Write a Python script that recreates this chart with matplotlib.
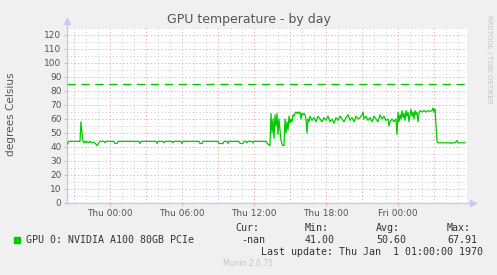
import numpy as np
import matplotlib.pyplot as plt
from matplotlib.patches import Rectangle

plt.rcParams['lines.scale_dashes'] = False

# minutes relative to Thu 00:00, temperature in degrees Celsius
minutes = [-215, -210, -205, -150, -145, -140, -135, -130, -125, -120, -115, -105, -100,
           -90, -80, -70, -65, -60, -50, -30, -25, -20, 20, 25, 35, 40, 145, 150, 155,
           230, 235, 240, 265, 270, 275, 310, 315, 320, 355, 360, 365, 445, 450, 460, 465,
           540, 545, 565, 570, 585, 590, 595, 645, 650, 665, 670, 680, 685, 690, 710, 715,
           720, 780, 790, 800,
           805, 810, 815, 820, 825, 830, 835, 840, 845, 850, 855, 860, 865, 870, 875, 880,
           885, 890, 895, 900, 905, 910, 915, 920, 925, 930, 935, 940, 945, 950, 955, 960,
           965, 970, 975, 980, 985, 990, 995, 1000,
           1010, 1020, 1030, 1040, 1050, 1060, 1070, 1080, 1090, 1100, 1110, 1120, 1130,
           1140, 1150, 1160, 1170, 1180, 1190, 1200, 1210, 1220, 1230, 1240, 1250, 1260,
           1265, 1270, 1280, 1290, 1300, 1310, 1320, 1330, 1340, 1350, 1360, 1370, 1380,
           1390, 1395, 1400, 1410, 1420, 1430, 1435,
           1440, 1445, 1450, 1455, 1460, 1465, 1470, 1475, 1480, 1485, 1490, 1495, 1500,
           1505, 1510, 1515, 1520, 1525, 1530, 1535, 1540, 1545, 1550, 1560, 1570, 1580,
           1590, 1600, 1610, 1615, 1620, 1625, 1630, 1635, 1640, 1700, 1705, 1710, 1725,
           1735, 1740, 1775]
temps = [42, 43, 44, 44, 58, 50, 44, 43, 44, 43, 44, 43, 44,
         43, 43.5, 42, 41, 42, 44, 44, 43, 44, 44, 42.5, 42.5, 44, 44, 42.5, 44,
         44, 42.5, 44, 44, 43, 44, 44, 43, 44, 44, 42.5, 44, 44, 42.5, 42.5, 44,
         44, 42.5, 42.5, 44, 44, 42.5, 44, 44, 42.5, 42.5, 44, 44, 43, 44, 44, 43,
         44, 44, 42, 41,
         64, 50, 60, 46, 63, 55, 64, 49, 60, 52, 45, 42, 41, 41, 60, 50,
         58, 52, 62, 57, 60, 58, 63, 62, 64, 65, 64, 65, 64, 65, 60, 64,
         63, 64, 63, 60, 50, 60, 58, 62,
         59, 61, 58, 62, 60, 58, 61, 59, 62, 58, 60, 57, 61,
         59, 62, 60, 58, 61, 63, 59, 61, 58, 62, 60, 61, 63,
         65, 60, 62, 59, 61, 58, 62, 60, 58, 63, 60, 62, 59,
         60, 55, 58, 60, 58, 60, 49,
         65, 58, 63, 60, 66, 61, 64, 59, 66, 62, 65, 58, 63,
         67, 62, 65, 60, 66, 63, 65, 58, 64, 66, 65, 66, 65,
         66, 65.5, 66, 67.9, 65, 67, 55, 44, 43, 43, 42.5, 43, 43,
         44.5, 43, 43]
warning_level = 85

label_hours = [0, 6, 12, 18, 24]
label_texts = ['Thu 00:00', 'Thu 06:00', 'Thu 12:00', 'Thu 18:00', 'Fri 00:00']

series_name = 'GPU 0: NVIDIA A100 80GB PCIe'
stat_names = ['Cur:', 'Min:', 'Avg:', 'Max:']
stat_values = ['-nan', '41.00', '50.60', '67.91']
last_update = 'Last update: Thu Jan  1 01:00:00 1970'

W, H = 497, 275
bg = '#F0F0F0'
green = '#00CC00'
txt = '#555555'
axis_col = '#C8C8F5'
major_col = '#E5B5B5'
minor_col = '#D8D8D8'


def fx(px):
    return px / W


def fy(py):
    return 1 - py / H


fig = plt.figure(figsize=(W / 100, H / 100), dpi=100, facecolor=bg)
ax = fig.add_axes([fx(67), fy(203), 400 / W, 175 / H])
ax.set_facecolor('white')

x0, x1 = -215 / 60, 1785 / 60
ax.set_xlim(x0, x1)
ax.set_ylim(0, 125)

# grid drawn by hand: minor every hour / 5 degrees, major every 3 hours / 10 degrees
for h in np.arange(np.ceil(x0), x1, 1):
    major = h % 3 == 0
    ax.axvline(h, color=major_col if major else minor_col, lw=0.7,
               linestyle=(0, (1, 1.5)), zorder=1)
for v in range(5, 126, 5):
    major = v % 10 == 0
    ax.axhline(v, color=major_col if major else minor_col, lw=0.7,
               linestyle=(0, (1, 1.5)), zorder=1)

ax.set_xticks(label_hours)
ax.set_xticklabels(label_texts)
ax.set_yticks(range(0, 121, 10))
ax.tick_params(axis='both', colors=major_col, labelcolor=txt, labelsize=6.5,
               length=2, width=0.8, pad=2)
for s in ax.spines.values():
    s.set_visible(False)

# axes with arrow heads
ax.plot([0, 0], [0, 1.03], transform=ax.transAxes, color=axis_col, lw=1,
        clip_on=False, zorder=3)
ax.plot([0, 1.012], [0, 0], transform=ax.transAxes, color=axis_col, lw=1,
        clip_on=False, zorder=3)
ax.plot([0], [1.04], marker='^', ms=4, color=axis_col, transform=ax.transAxes,
        clip_on=False, zorder=3)
ax.plot([1.014], [0], marker='>', ms=4, color=axis_col, transform=ax.transAxes,
        clip_on=False, zorder=3)

hours = np.array(minutes) / 60
ax.plot(hours, temps, color=green, lw=0.9, zorder=4)
ax.axhline(warning_level, color=green, lw=1, dashes=(6, 4), zorder=4)

fig.text(0.5, fy(19), 'GPU temperature - by day', ha='center', va='center',
         fontsize=9, color=txt)
fig.text(fx(11), fy(114), 'degrees Celsius', rotation=90, ha='center', va='center',
         fontsize=7.6, color=txt)
fig.text(fx(489), fy(15), 'RRDTOOL / TOBI OETIKER', rotation=270, ha='center',
         va='top', fontsize=5.0, color='#C4C4C4')

mono = dict(family='DejaVu Sans Mono', fontsize=7.2, color='#333333', va='center')
fig.patches.append(Rectangle((fx(14), fy(243)), 6 / W, 6 / H, color=green,
                             transform=fig.transFigure, figure=fig))
fig.text(fx(26), fy(240), series_name, ha='left', **mono)
col_x = [235, 305, 376, 447]
for cx, name, val in zip(col_x, stat_names, stat_values):
    fig.text(fx(cx), fy(228), name, ha='left', **mono)
    fig.text(fx(cx + 30), fy(240), val, ha='right', **mono)
fig.text(fx(483), fy(252), last_update, ha='right', **mono)
fig.text(fx(248), fy(264), 'Munin 2.0.75', ha='center', va='center',
         fontsize=5.5, color='#C4C4C4')

fig.savefig('out.png', dpi=100, facecolor=bg)
